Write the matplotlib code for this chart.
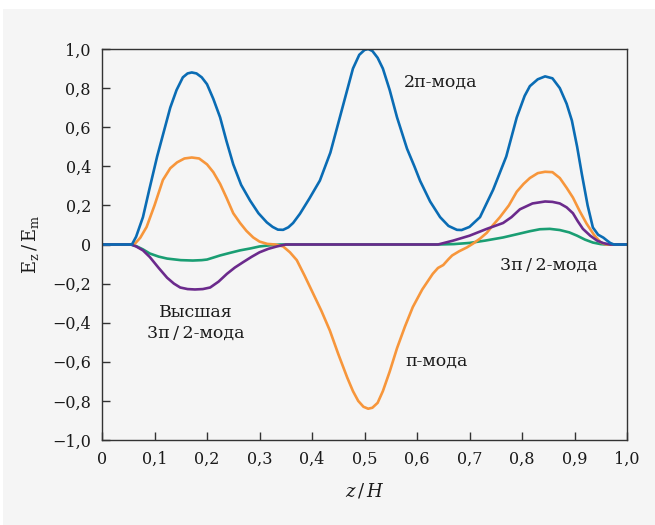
import numpy as np
import matplotlib.pyplot as plt
from matplotlib.patches import Rectangle
from matplotlib.ticker import FuncFormatter

plt.rcParams['font.family'] = ['DejaVu Serif']
plt.rcParams['mathtext.fontset'] = 'dejavuserif'

# 2pi-mode
x_2pi = [0, 0.05, 0.057, 0.065, 0.078, 0.09, 0.105, 0.118, 0.13, 0.142, 0.154, 0.163, 0.171, 0.18, 0.19,
         0.2, 0.212, 0.225, 0.237, 0.25, 0.265, 0.282, 0.298, 0.314, 0.325, 0.335, 0.345, 0.355, 0.364,
         0.377, 0.395, 0.415, 0.435, 0.453, 0.466, 0.478, 0.49, 0.5, 0.507, 0.515, 0.525, 0.535, 0.548,
         0.562, 0.581, 0.595, 0.606, 0.625, 0.644, 0.66, 0.676, 0.685, 0.7, 0.72, 0.745, 0.77, 0.79,
         0.805, 0.815, 0.83, 0.844, 0.858, 0.872, 0.885, 0.895, 0.905, 0.914, 0.925, 0.935, 0.945,
         0.955, 0.962, 0.968, 0.975, 1.0]
y_2pi = [0, 0, 0, 0.04, 0.14, 0.28, 0.45, 0.58, 0.70, 0.79, 0.855, 0.875, 0.88, 0.875, 0.855,
         0.82, 0.745, 0.65, 0.53, 0.41, 0.305, 0.225, 0.16, 0.113, 0.09, 0.076, 0.075, 0.088, 0.11,
         0.157, 0.235, 0.327, 0.47, 0.65, 0.78, 0.9, 0.97, 0.995, 1.0, 0.99, 0.955, 0.9, 0.79,
         0.65, 0.49, 0.40, 0.325, 0.22, 0.14, 0.095, 0.075, 0.074, 0.09, 0.14, 0.28, 0.45, 0.65,
         0.76, 0.81, 0.845, 0.86, 0.85, 0.80, 0.72, 0.634, 0.5, 0.36, 0.2, 0.087, 0.05,
         0.035, 0.02, 0.008, 0, 0]

# pi-mode
x_pi = [0, 0.055, 0.063, 0.073, 0.085, 0.1, 0.116, 0.13, 0.143, 0.157, 0.171, 0.185, 0.2, 0.212,
        0.225, 0.237, 0.25, 0.263, 0.275, 0.288, 0.3, 0.315, 0.33, 0.345, 0.358, 0.371, 0.386, 0.402,
        0.418, 0.434, 0.45, 0.467, 0.478, 0.488, 0.498, 0.507, 0.515, 0.525, 0.535, 0.548, 0.562,
        0.577, 0.592, 0.61, 0.63, 0.64, 0.65, 0.66, 0.667, 0.68, 0.695, 0.707, 0.72, 0.733, 0.745,
        0.758, 0.775, 0.79, 0.803, 0.815, 0.83, 0.844, 0.858, 0.872, 0.885, 0.897, 0.91, 0.923,
        0.937, 0.95, 0.96, 1.0]
y_pi = [0, 0, 0.005, 0.035, 0.09, 0.2, 0.33, 0.39, 0.42, 0.44, 0.445, 0.44, 0.41, 0.37,
        0.31, 0.24, 0.16, 0.11, 0.07, 0.036, 0.015, 0.003, 0, -0.01, -0.04, -0.08, -0.16, -0.25,
        -0.34, -0.44, -0.56, -0.68, -0.75, -0.80, -0.83, -0.84, -0.835, -0.81, -0.75, -0.65, -0.53,
        -0.42, -0.32, -0.23, -0.15, -0.12, -0.105, -0.075, -0.056, -0.035, -0.015, 0.005, 0.03, 0.06, 0.1,
        0.14, 0.2, 0.27, 0.31, 0.34, 0.365, 0.372, 0.37, 0.34, 0.29, 0.24, 0.17, 0.107,
        0.05, 0.01, 0, 0]

# 3pi/2-mode
x_3pi2 = [0, 0.055, 0.065, 0.078, 0.091, 0.108, 0.124, 0.15, 0.173, 0.19, 0.2, 0.212, 0.225, 0.245,
          0.263, 0.283, 0.30, 0.32, 0.34, 0.64, 0.67, 0.70, 0.73, 0.764, 0.796, 0.815, 0.834, 0.853,
          0.872, 0.89, 0.905, 0.92, 0.935, 0.95, 0.96, 1.0]
y_3pi2 = [0, 0, -0.008, -0.025, -0.046, -0.062, -0.072, -0.08, -0.082, -0.08, -0.077, -0.067, -0.056, -0.042,
          -0.03, -0.02, -0.01, -0.004, 0, 0, 0.002, 0.008, 0.02, 0.036, 0.056, 0.068, 0.078, 0.08,
          0.074, 0.062, 0.045, 0.025, 0.01, 0.002, 0, 0]

# higher 3pi/2-mode
x_high = [0, 0.055, 0.065, 0.078, 0.091, 0.108, 0.124, 0.137, 0.149, 0.163, 0.177, 0.192, 0.206, 0.222,
          0.238, 0.253, 0.269, 0.285, 0.30, 0.317, 0.333, 0.35, 0.64, 0.669, 0.70, 0.733, 0.764, 0.78,
          0.796, 0.82, 0.844, 0.858, 0.872, 0.885, 0.897, 0.906, 0.916, 0.93, 0.943, 0.955, 0.968, 1.0]
y_high = [0, 0, -0.01, -0.03, -0.064, -0.12, -0.17, -0.2, -0.22, -0.228, -0.23, -0.228, -0.22, -0.19,
          -0.15, -0.118, -0.09, -0.063, -0.04, -0.022, -0.01, 0, 0, 0.02, 0.045, 0.08, 0.11, 0.14,
          0.18, 0.21, 0.22, 0.218, 0.21, 0.19, 0.16, 0.12, 0.08, 0.045, 0.02, 0.007, 0, 0]

bg = '#f5f5f5'
fig = plt.figure(figsize=(6.55, 5.25), dpi=100, facecolor='white')
fig.patches.append(Rectangle((3 / 655, 0), 1, 1 - 9 / 525, transform=fig.transFigure,
                             facecolor=bg, edgecolor='none', zorder=-10))
ax = fig.add_axes([102 / 655, 1 - 440 / 525, 525 / 655, 391 / 525])
ax.set_facecolor(bg)

lw = 1.9
ax.plot(x_3pi2, y_3pi2, color='#1a9e73', lw=lw, solid_capstyle='round', solid_joinstyle='round')
ax.plot(x_pi, y_pi, color='#f7963b', lw=lw, solid_capstyle='round', solid_joinstyle='round')
ax.plot(x_high, y_high, color='#6b2a8c', lw=lw, solid_capstyle='round', solid_joinstyle='round')
ax.plot(x_2pi, y_2pi, color='#0a6cb4', lw=lw, solid_capstyle='round', solid_joinstyle='round')

ax.set_xlim(0, 1)
ax.set_ylim(-1, 1)
ax.set_xticks(np.arange(0, 1.01, 0.1))
ax.set_yticks(np.arange(-1, 1.01, 0.2))


def fmt(v, pos):
    if abs(v) < 1e-9:
        return '0'
    s = f'{v:.1f}'.replace('.', ',').replace('-', '\u2212')
    return s


ax.xaxis.set_major_formatter(FuncFormatter(fmt))
ax.yaxis.set_major_formatter(FuncFormatter(fmt))
ax.tick_params(direction='in', length=6, width=1, colors='#333333', labelcolor='#1a1a1a',
               labelsize=11.5, pad=8)
for s in ax.spines.values():
    s.set_color('#333333')
    s.set_linewidth(1)

ax.set_xlabel('$z\\,/\\,H$', fontsize=13, labelpad=10, color='#1a1a1a')
ax.set_ylabel(r'$\mathrm{E_z\,/\,E_m}$', fontsize=13, labelpad=8, color='#1a1a1a')

tk = dict(fontsize=12.5, color='#1a1a1a', ha='center', va='center')
ax.text(0.644, 0.83, '2π-мода', **tk)
ax.text(0.85, -0.107, '3π\u2009/\u20092-мода', **tk)
ax.text(0.179, -0.4, 'Высшая\n3π\u2009/\u20092-мода', linespacing=1.3, **tk)
ax.text(0.638, -0.60, 'π-мода', **tk)

fig.savefig('out.png', dpi=100, facecolor=fig.get_facecolor())
